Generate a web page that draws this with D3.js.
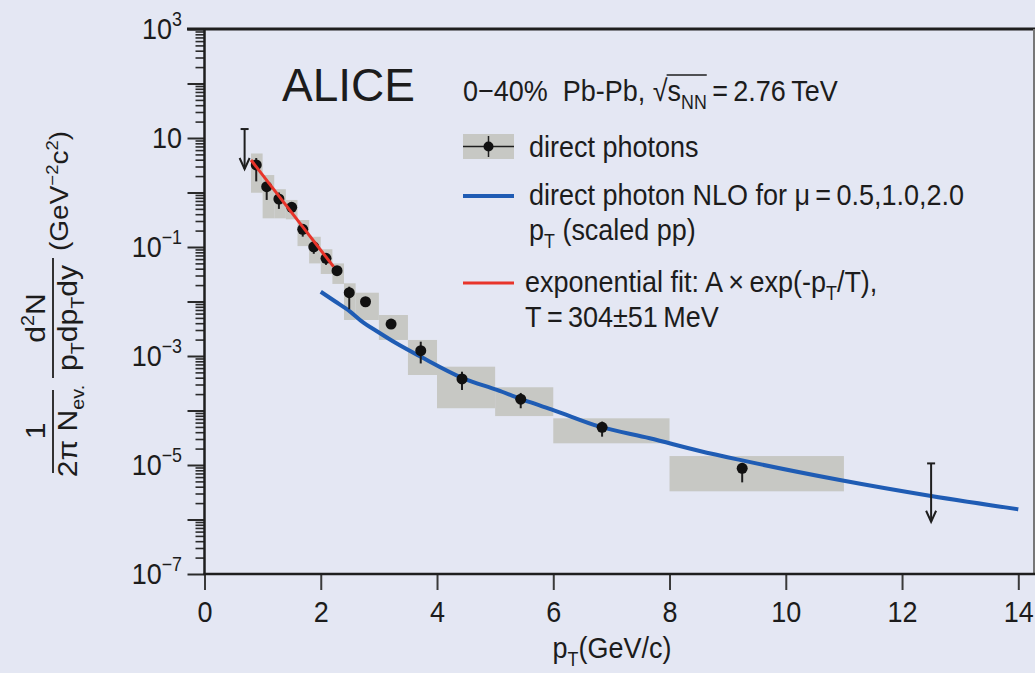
<!DOCTYPE html>
<html>
<head>
<meta charset="utf-8">
<script src="https://cdn.jsdelivr.net/npm/d3@7"></script>
<style>
body { margin: 0; background: #e4e7f3; }
svg { display: block; }
text { font-family: "Liberation Sans", Arial, sans-serif; fill: #1c1c1c; }
</style>
</head>
<body>
<svg id="main" width="1035" height="673"></svg>
<script>
// direct photon spectrum
var ptPoints = [0.89, 1.07, 1.28, 1.50, 1.69, 1.88, 2.09, 2.28, 2.49, 2.77, 3.21, 3.72, 4.43, 5.44, 6.84, 9.25]
var yields   = [3.2, 1.28, 0.76, 0.535, 0.211, 0.101, 0.062, 0.0367, 0.0145, 0.0099, 0.00386, 0.00125, 3.79e-4, 1.61e-4, 4.92e-5, 8.7e-6]
var statHi   = [4.3, 1.48, 1.0, 0.6, 0.25, 0.12, 0.075, 0.042, 0.0187, 0.011, 0.0042, 0.00183, 5.15e-4, 2.1e-4, 6.24e-5, 9.0e-6]
var statLo   = [1.6, 0.73, 0.5, 0.45, 0.155, 0.075, 0.047, 0.03, 0.0072, 0.0088, 0.0034, 7.3e-4, 2.38e-4, 1.1e-4, 3.31e-5, 4.8e-6]
var binLo    = [0.8, 1.0, 1.2, 1.4, 1.6, 1.8, 2.0, 2.2, 2.4, 2.6, 3.0, 3.5, 4.0, 5.0, 6.0, 8.0]
var binHi    = [1.0, 1.2, 1.4, 1.6, 1.8, 2.0, 2.2, 2.4, 2.6, 3.0, 3.5, 4.0, 5.0, 6.0, 8.0, 11.0]
var systHi   = [5.2, 2.09, 1.15, 0.73, 0.313, 0.154, 0.091, 0.050, 0.0216, 0.0145, 0.00565, 0.00197, 6.37e-4, 2.67e-4, 7.19e-5, 1.46e-5]
var systLo   = [0.99, 0.336, 0.336, 0.322, 0.104, 0.050, 0.032, 0.021, 0.00458, 0.00458, 0.00197, 4.48e-4, 1.10e-4, 7.9e-5, 2.50e-5, 3.29e-6]

// upper limits (arrows)
var limPt  = [0.69, 12.5]
var limVal = [14.6, 1.07e-5]
var limEnd = [2.7, 9.1e-7]

// NLO pQCD curve
var nloPt  = [2.0, 2.25, 2.5, 2.7, 3.0, 3.3, 3.72, 4.45, 5.03, 5.6, 6.0, 6.8, 7.66, 8.52, 9.21, 10.93, 12.5, 14.0]
var nloVal = [0.0151, 0.0100, 0.0066, 0.00437, 0.0027, 0.00171, 9.7e-4, 3.9e-4, 2.38e-4, 1.42e-4, 1.02e-4, 5.05e-5, 3.1e-5, 1.81e-5, 1.24e-5, 5.3e-6, 2.7e-6, 1.54e-6]

// exponential fit, end points
var fitPt  = [0.8, 2.22]
var fitVal = [3.95, 0.0435]

// axes
var xTicks = [0, 2, 4, 6, 8, 10, 12, 14]
var yLabelExp = [3, 1, -1, -3, -5, -7]

var blue = '#1f5cb4', red = '#e8342a', boxGray = '#c7c8c4', dark = '#1e1e1e'

var svg = d3.select('#main')
svg.append('rect').attr('width', 1035).attr('height', 673).attr('fill', '#e4e7f3')

var x = d3.scaleLinear().domain([0, 14]).range([204.5, 1018.3])
var y = d3.scaleLog().domain([1e-7, 1e3]).range([574, 29])

// rich text: parts with sub / sup
function rich(sel, parts, fs) {
    var shift = 0
    parts.forEach(function(p) {
        var target = p.sub ? 0.26 * fs : (p.sup ? -0.42 * fs : 0)
        sel.append('tspan')
            .attr('dy', target - shift)
            .style('font-size', ((p.sub || p.sup) ? 0.66 * fs : fs) + 'px')
            .text(p.t)
        shift = target
    })
}
function label(parent, px, py, anchor, fs, parts) {
    var g = parent.append('g').attr('transform', 'translate(' + px + ',' + py + ') scale(0.9,1)')
    var t = g.append('text').attr('text-anchor', anchor).style('font-size', fs + 'px')
    rich(t, parts, fs)
    return t
}

// systematic boxes
var idx = d3.range(ptPoints.length)
svg.append('g').selectAll('rect').data(idx).enter().append('rect')
    .attr('x', function(i) { return x(binLo[i]) })
    .attr('width', function(i) { return x(binHi[i]) - x(binLo[i]) })
    .attr('y', function(i) { return y(systHi[i]) })
    .attr('height', function(i) { return y(systLo[i]) - y(systHi[i]) })
    .attr('fill', boxGray)

// NLO curve
var nlo = nloPt.map(function(p, i) { return [p, nloVal[i]] })
svg.append('path').datum(nlo)
    .attr('d', d3.line().x(function(d) { return x(d[0]) }).y(function(d) { return y(d[1]) }).curve(d3.curveMonotoneX))
    .attr('fill', 'none').attr('stroke', blue).attr('stroke-width', 4)

// stat error bars + points
svg.append('g').selectAll('line').data(idx).enter().append('line')
    .attr('x1', function(i) { return x(ptPoints[i]) })
    .attr('x2', function(i) { return x(ptPoints[i]) })
    .attr('y1', function(i) { return y(statHi[i]) })
    .attr('y2', function(i) { return y(statLo[i]) })
    .attr('stroke', dark).attr('stroke-width', 2)
svg.append('g').selectAll('circle').data(idx).enter().append('circle')
    .attr('cx', function(i) { return x(ptPoints[i]) })
    .attr('cy', function(i) { return y(yields[i]) })
    .attr('r', 5.5)
    .attr('fill', '#111')

// exponential fit
var fit = fitPt.map(function(p, i) { return [p, fitVal[i]] })
svg.append('path').datum(fit)
    .attr('d', d3.line().x(function(d) { return x(d[0]) }).y(function(d) { return y(d[1]) }))
    .attr('fill', 'none').attr('stroke', red).attr('stroke-width', 3)

// upper limit arrows
limPt.forEach(function(p, i) {
    var ax = x(p), top = y(limVal[i]), tip = y(limEnd[i])
    var g = svg.append('g').attr('stroke', dark).attr('stroke-width', 2).attr('fill', 'none')
    g.append('line').attr('x1', ax).attr('x2', ax).attr('y1', top).attr('y2', tip)
    g.append('line').attr('x1', ax - 4).attr('x2', ax + 4).attr('y1', top).attr('y2', top)
    g.append('path').attr('d', 'M' + (ax - 5) + ',' + (tip - 11) + 'L' + ax + ',' + tip + 'L' + (ax + 5) + ',' + (tip - 11))
})

// axes
var xAxis = svg.append('g').attr('transform', 'translate(0,574)')
    .call(d3.axisBottom(x).tickValues(xTicks).tickSize(16).tickSizeOuter(0).tickFormat(d3.format('d')))
xAxis.select('.domain').remove()
xAxis.selectAll('line').attr('stroke', '#3a3a3a').attr('stroke-width', 2)
xAxis.selectAll('text').attr('y', 48).attr('dy', 0)
    .attr('transform', 'scale(0.9,1)')
    .style('font-size', '30px').style('font-family', '"Liberation Sans", Arial, sans-serif').attr('fill', '#1c1c1c')

var decades = d3.range(-7, 4).map(function(e) { return Math.pow(10, e) })
var minors = []
d3.range(-7, 3).forEach(function(e) {
    d3.range(2, 10).forEach(function(m) { minors.push(m * Math.pow(10, e)) })
})
var yMinor = svg.append('g').attr('transform', 'translate(204.5,0)')
    .call(d3.axisLeft(y).tickValues(minors).tickSize(9).tickSizeOuter(0).tickFormat(''))
yMinor.select('.domain').remove()
yMinor.selectAll('line').attr('stroke', '#2a2a2a').attr('stroke-width', 1.6)
var yMajor = svg.append('g').attr('transform', 'translate(204.5,0)')
    .call(d3.axisLeft(y).tickValues(decades).tickSize(17).tickSizeOuter(0).tickFormat(''))
yMajor.select('.domain').remove()
yMajor.selectAll('line').attr('stroke', '#2a2a2a').attr('stroke-width', 2)

yLabelExp.forEach(function(e) {
    var parts = e === 1 ? [{t: '10'}] : [{t: '10'}, {t: e < 0 ? '\u2212' + (-e) : '' + e, sup: true}]
    label(svg, 182, y(Math.pow(10, e)) + 10, 'end', 30, parts)
})

// frame
var frame = svg.append('g').attr('fill', 'none')
frame.append('line').attr('x1', 187).attr('x2', 1035).attr('y1', 29).attr('y2', 29).attr('stroke', dark).attr('stroke-width', 3)
frame.append('line').attr('x1', 1034).attr('x2', 1034).attr('y1', 29).attr('y2', 575).attr('stroke', '#777').attr('stroke-width', 2)
frame.append('line').attr('x1', 203.5).attr('x2', 1035).attr('y1', 574).attr('y2', 574).attr('stroke', dark).attr('stroke-width', 2.5)
frame.append('line').attr('x1', 204.5).attr('x2', 204.5).attr('y1', 28).attr('y2', 575).attr('stroke', dark).attr('stroke-width', 2.5)

// axis titles
label(svg, 612, 658, 'middle', 30, [{t: 'p'}, {t: 'T', sub: true}, {t: '(GeV/c)'}])

var yt = svg.append('g').attr('transform', 'translate(53,0) scale(0.9,1) rotate(-90)')
function ytext(u, v, fs, parts) {
    var t = yt.append('text').attr('x', u).attr('y', v).attr('text-anchor', 'middle').style('font-size', fs + 'px')
    rich(t, parts, fs)
}
ytext(-431, -9, 30, [{t: '1'}])
ytext(-431, 27, 30, [{t: '2\u03c0 N'}, {t: 'ev.', sub: true}])
ytext(-318, -9, 30, [{t: 'd'}, {t: '2', sup: true}, {t: 'N'}])
ytext(-318, 27, 30, [{t: 'p'}, {t: 'T', sub: true}, {t: 'dp'}, {t: 'T', sub: true}, {t: 'dy'}])
ytext(-191, 17, 28, [{t: '(GeV'}, {t: '\u22122', sup: true}, {t: 'c'}, {t: '2', sup: true}, {t: ')'}])
yt.append('line').attr('x1', -473).attr('x2', -390).attr('y1', 0).attr('y2', 0).attr('stroke', dark).attr('stroke-width', 2)
yt.append('line').attr('x1', -378).attr('x2', -258).attr('y1', 0).attr('y2', 0).attr('stroke', dark).attr('stroke-width', 2)

// ALICE label
svg.append('text').attr('x', 282).attr('y', 101).style('font-size', '46px').text('ALICE')

// header line with sqrt(s_NN)
var pre = '0\u221240%\u00a0\u00a0Pb-Pb,\u00a0'
var title = label(svg, 463, 101, 'start', 30, [
    {t: pre + '\u221a'}, {t: 's'}, {t: 'NN', sub: true}, {t: '\u2009=\u20092.76\u2009TeV'}
])
var tn = title.node()
var rootExt = tn.getExtentOfChar(pre.length)
var lastN = tn.getExtentOfChar(pre.length + 3)
d3.select(tn.parentNode).append('line')
    .attr('x1', rootExt.x + rootExt.width - 1).attr('x2', lastN.x + lastN.width)
    .attr('y1', -26).attr('y2', -26)
    .attr('stroke', dark).attr('stroke-width', 1.6)

// legend
var leg = svg.append('g')
leg.append('rect').attr('x', 463).attr('y', 134).attr('width', 51).attr('height', 25).attr('fill', boxGray)
leg.append('line').attr('x1', 463).attr('x2', 514).attr('y1', 146.5).attr('y2', 146.5).attr('stroke', dark).attr('stroke-width', 1.5)
leg.append('line').attr('x1', 488.5).attr('x2', 488.5).attr('y1', 136).attr('y2', 157).attr('stroke', dark).attr('stroke-width', 1.5)
leg.append('circle').attr('cx', 488.5).attr('cy', 146.5).attr('r', 5).attr('fill', '#111')
leg.append('line').attr('x1', 463).attr('x2', 514).attr('y1', 196).attr('y2', 196).attr('stroke', blue).attr('stroke-width', 4)
leg.append('line').attr('x1', 463).attr('x2', 514).attr('y1', 283).attr('y2', 283).attr('stroke', red).attr('stroke-width', 3)

label(leg, 529, 157, 'start', 30, [{t: 'direct photons'}])
label(leg, 529, 205, 'start', 30, [{t: 'direct photon NLO for \u03bc\u2009=\u20090.5,1.0,2.0'}])
label(leg, 529, 240, 'start', 30, [{t: 'p'}, {t: 'T', sub: true}, {t: ' (scaled pp)'}])
label(leg, 525, 292, 'start', 30, [{t: 'exponential fit: A\u2009\u00d7\u2009exp(-p'}, {t: 'T', sub: true}, {t: '/T),'}])
label(leg, 525, 327, 'start', 30, [{t: 'T\u2009=\u2009304\u00b151\u2009MeV'}])
</script>
</body>
</html>
